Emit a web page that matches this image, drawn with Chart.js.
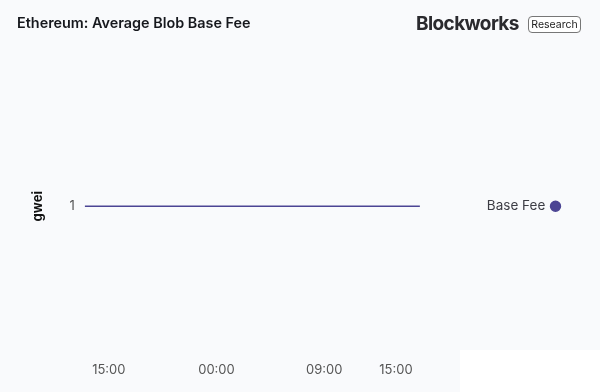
<!DOCTYPE html>
<html>
<head>
<meta charset="utf-8">
<script src="https://cdn.jsdelivr.net/npm/chart.js@4.4.0/dist/chart.umd.min.js"></script>
<style>
  html, body { margin: 0; padding: 0; background: #f9fafc; }
  #wrap { position: relative; width: 600px; height: 392px; overflow: hidden; font-family: Inter, "Noto Sans", sans-serif; }
  #title { position: absolute; left: 17px; top: 14px; font-size: 14.4px; font-weight: 600; color: #16181d; }
  #logo { position: absolute; left: 416px; top: 12px; font-size: 19px; font-weight: 700; color: #2a2a2e; letter-spacing: -0.6px; }
  #badge { position: absolute; left: 528px; top: 16px; width: 51px; height: 15px; border: 1px solid #777; border-radius: 4px;
           font-size: 10.5px; line-height: 15px; text-align: center; color: #222; background: #fff; }
  #patch { position: absolute; left: 460px; top: 350px; width: 140px; height: 42px; background: #fff; }
  canvas { position: absolute; left: 0; top: 0; }
</style>
</head>
<body>
<div id="wrap">
  <canvas id="chart" width="600" height="392"></canvas>
  <div id="patch"></div>
  <div id="title">Ethereum: Average Blob Base Fee</div>
  <div id="logo">Blockworks</div>
  <div id="badge">Research</div>
</div>
<script>
// hourly points, day 1 13:00 through day 2 17:00
const hours = [
  '13:00', '14:00', '15:00', '16:00', '17:00', '18:00', '19:00', '20:00', '21:00', '22:00', '23:00',
  '00:00', '01:00', '02:00', '03:00', '04:00', '05:00', '06:00', '07:00', '08:00', '09:00',
  '10:00', '11:00', '12:00', '13:00', '14:00', '15:00', '16:00', '17:00'
];
const baseFee = [
  1, 1, 1, 1, 1, 1, 1, 1, 1, 1, 1,
  1, 1, 1, 1, 1, 1, 1, 1, 1, 1,
  1, 1, 1, 1, 1, 1, 1, 1
];
const shownTicks = [2, 11, 20, 26];
const yTicks = [1];

const purple = '#4c4594';

// widen the right-hand legend box so the plot stops well short of it
const legendWidth = {
  id: 'legendWidth',
  beforeLayout(chart) {
    const lg = chart.legend;
    if (lg && !lg.widened) {
      const fit = lg.fit;
      lg.fit = function () { fit.call(this); this.width += 57; };
      lg.widened = true;
    }
  }
};

new Chart(document.getElementById('chart'), {
  type: 'line',
  data: {
    labels: hours,
    datasets: [{
      label: 'Base Fee',
      data: baseFee,
      borderColor: purple,
      backgroundColor: purple,
      borderWidth: 1.5,
      pointRadius: 0,
      tension: 0
    }]
  },
  plugins: [legendWidth],
  options: {
    responsive: false,
    animation: false,
    layout: { padding: { top: 68, bottom: -4, left: 26, right: 30 } },
    plugins: {
      tooltip: { enabled: false },
      legend: {
        position: 'right',
        fullSize: false,
        rtl: true,
        labels: {
          usePointStyle: true,
          pointStyle: 'circle',
          boxWidth: 7,
          boxHeight: 7,
          padding: 11,
          color: '#3c3c44',
          font: { family: 'Inter', size: 13.5 }
        }
      }
    },
    scales: {
      x: {
        type: 'category',
        offset: false,
        grid: { display: false, drawTicks: false },
        border: { display: false },
        ticks: {
          autoSkip: false,
          maxRotation: 0,
          padding: 18,
          color: '#555',
          font: { family: 'Inter', size: 13 },
          callback: function (v, i) { return shownTicks.includes(i) ? hours[i] : null; }
        }
      },
      y: {
        min: 0,
        max: 2,
        afterBuildTicks: function (axis) { axis.ticks = yTicks.map(v => ({ value: v })); },
        grid: { display: false, drawTicks: false },
        border: { display: false },
        ticks: {
          padding: 10,
          color: '#555',
          font: { family: 'Inter', size: 13 }
        },
        title: {
          display: true,
          text: 'gwei',
          color: '#111',
          padding: { bottom: 14 },
          font: { family: 'Inter', size: 13, weight: 'bold' }
        }
      }
    }
  }
});
</script>
</body>
</html>
